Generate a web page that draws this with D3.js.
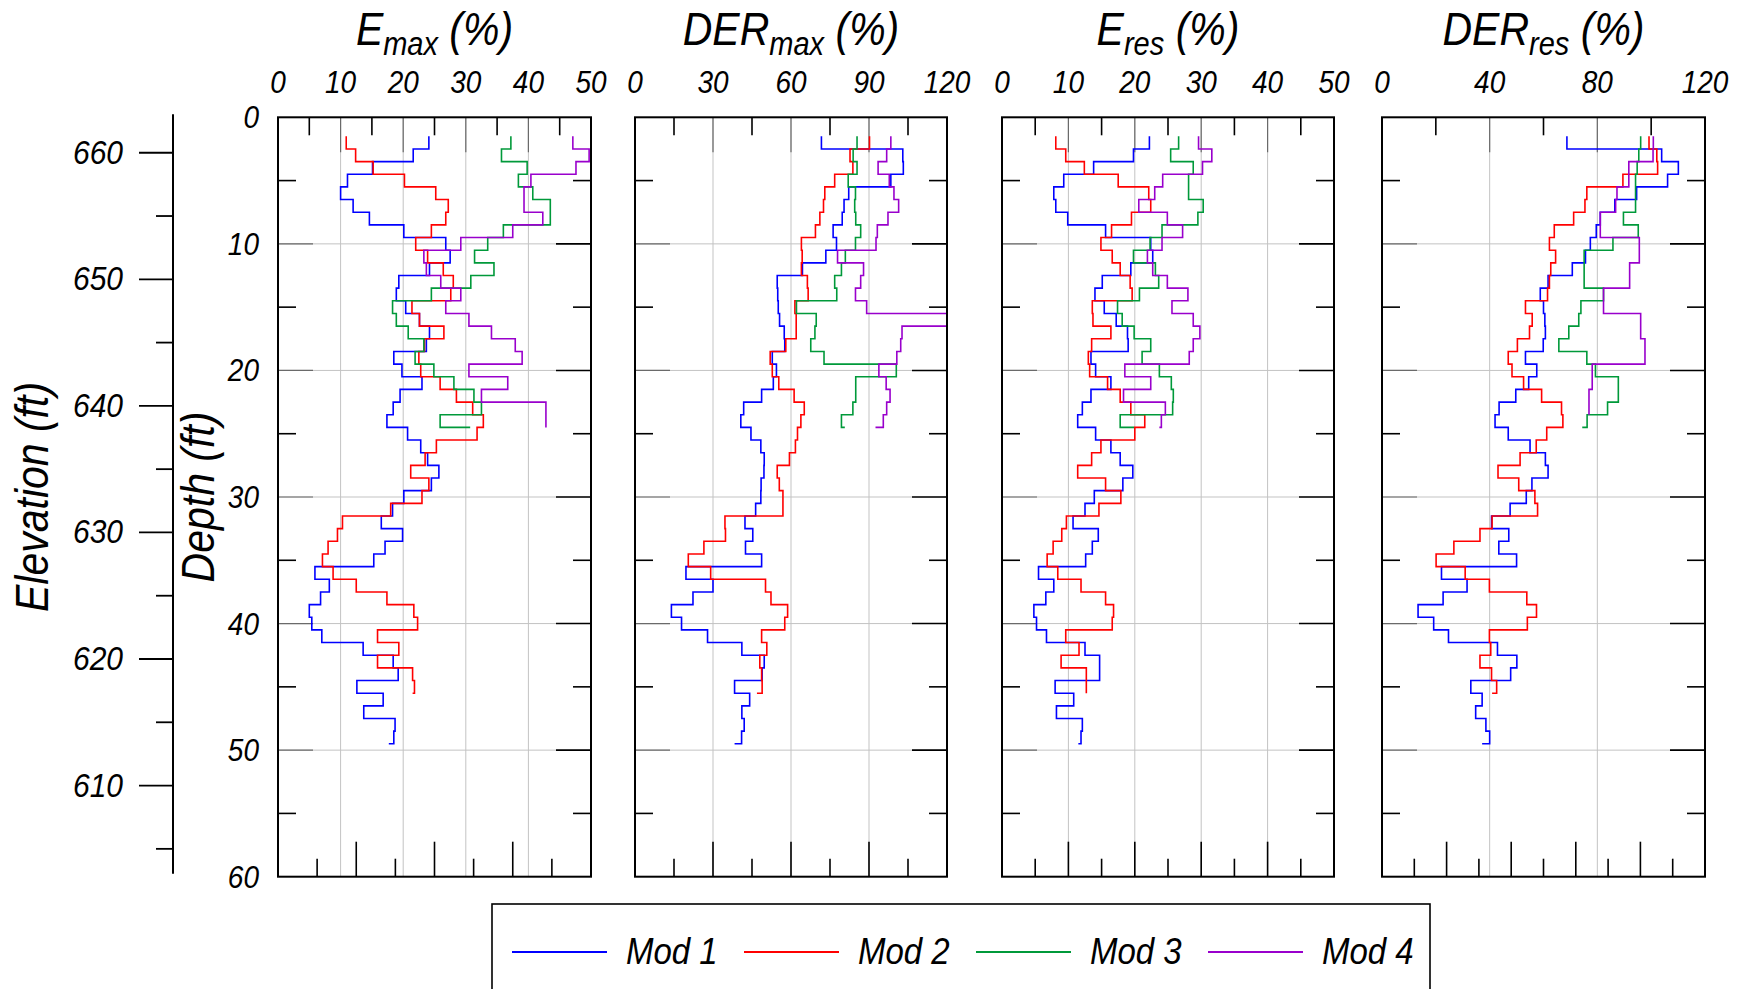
<!DOCTYPE html>
<html>
<head>
<meta charset="utf-8">
<script src="https://cdn.jsdelivr.net/npm/d3@7"></script>
<style>
  html, body { margin: 0; padding: 0; background: #fff; }
  svg { display: block; }
  text { font-family: "Liberation Sans", Arial, Helvetica, sans-serif; font-style: italic; fill: #000; }
</style>
</head>
<body>
<svg id="chart" width="1754" height="989"></svg>
<script>
// Centre depth (ft) of each 1-ft averaging interval
const depths = [2, 3, 4, 5, 6, 7, 8, 9, 10, 11, 12, 13, 14, 15, 16, 17, 18, 19, 20, 21, 22, 23, 24, 25,
  26, 27, 28, 29, 30, 31, 32, 33, 34, 35, 36, 37, 38, 39, 40, 41, 42, 43, 44, 45, 46, 47, 48, 49];

const seriesNames = ["Mod 1", "Mod 2", "Mod 3", "Mod 4"];

// E_max (%)
const emaxMod1 = [24.1, 21.6, 15.1, 11.1, 10.0, 12.0, 14.6, 20.1, 26.8, 27.5, 24.2, 19.3, 18.9, 20.4, 22.6, 24.2,
  23.7, 18.5, 19.8, 23.0, 19.5, 18.4, 17.4, 20.7, 22.8, 23.9, 25.7, 24.5, 20.1, 18.3, 16.5, 19.9, 17.1, 15.3,
  5.9, 8.2, 6.8, 5.0, 5.4, 7.0, 13.6, 18.4, 19.2, 12.6, 16.8, 13.7, 18.7, 18.5];
const emaxMod2 = [10.9, 12.4, 15.2, 20.2, 25.2, 27.2, 26.8, 24.5, 22.0, 23.9, 26.4, 28.0, 27.6, 21.4, 22.6, 26.5,
  23.4, 22.5, 22.8, 25.9, 28.5, 31.1, 32.8, 31.8, 25.3, 23.5, 21.2, 24.1, 23.0, 18.0, 10.3, 9.5, 8.0, 7.1,
  8.8, 12.5, 17.4, 21.7, 22.3, 15.9, 19.3, 15.9, 21.5, 21.8];
const emaxMod3 = [37.2, 35.7, 39.8, 38.4, 40.7, 43.5, 43.5, 36.0, 33.5, 31.4, 34.5, 30.8, 24.5, 18.3, 18.9, 20.8,
  23.3, 21.9, 24.9, 28.1, 31.3, 32.5, 25.9];
const emaxMod4 = [47.1, 49.7, 47.6, 40.4, 39.3, 39.3, 42.3, 37.5, 29.2, 23.3, 23.7, 26.0, 29.2, 26.8, 30.5, 34.1,
  37.9, 39.0, 30.5, 36.7, 32.5, 42.8, 42.8];
const emaxEnds = [17.7, 21.5, 30.7, 42.8];

// DER_max (%)
const dermaxMod1 = [71.7, 103.0, 103.2, 98.4, 82.2, 80.4, 79.7, 76.2, 77.5, 73.4, 64.4, 54.7, 54.9, 55.1, 55.6, 57.4,
  57.6, 52.8, 54.4, 53.2, 48.7, 41.8, 40.7, 44.6, 48.4, 49.7, 49.6, 48.5, 48.4, 46.4, 42.3, 45.3, 42.5, 48.7,
  19.6, 30.0, 22.3, 14.0, 17.9, 27.9, 41.1, 49.7, 48.9, 38.3, 44.1, 41.1, 42.0, 41.0];
const dermaxMod2 = [90.2, 82.7, 83.8, 76.8, 73.0, 72.5, 71.1, 69.4, 64.0, 64.3, 64.0, 66.3, 66.6, 61.5, 62.0, 62.0,
  58.0, 52.0, 52.8, 55.3, 61.2, 65.1, 63.8, 62.5, 61.7, 59.4, 54.7, 55.5, 56.9, 56.9, 34.6, 34.8, 26.5, 20.5,
  29.1, 50.2, 52.3, 58.7, 57.6, 48.7, 50.7, 48.0, 48.7, 48.9];
const dermaxMod3 = [85.4, 83.9, 85.4, 82.0, 84.8, 84.5, 84.9, 86.8, 84.8, 80.9, 79.4, 76.8, 77.6, 62.1, 69.7, 69.2,
  67.6, 72.7, 100.5, 84.9, 84.9, 83.8, 79.4];
const dermaxMod4 = [98.4, 96.8, 93.5, 97.8, 99.6, 101.4, 97.3, 93.2, 92.7, 77.9, 87.9, 86.8, 84.8, 89.1, 120.0, 102.7,
  102.2, 100.7, 93.8, 96.6, 98.1, 96.8, 95.5];
const dermaxEnds = [38.3, 46.9, 80.7, 92.5];

// E_res (%)
const eresMod1 = [22.2, 19.8, 13.8, 9.3, 7.8, 8.1, 9.9, 15.6, 22.4, 22.7, 19.4, 15.1, 14.0, 15.4, 17.2, 18.9,
  19.0, 13.4, 14.1, 16.4, 13.4, 12.1, 11.4, 14.1, 16.4, 17.8, 19.7, 18.2, 13.9, 12.5, 10.7, 14.5, 13.6, 12.6,
  5.5, 7.8, 6.6, 4.8, 5.2, 6.7, 12.5, 14.7, 14.7, 8.0, 10.8, 8.2, 12.1, 11.9];
const eresMod2 = [8.1, 9.6, 12.4, 17.5, 22.1, 22.4, 19.5, 16.5, 14.9, 16.6, 17.8, 19.3, 19.6, 13.6, 13.7, 16.4,
  13.5, 13.0, 13.2, 15.9, 17.8, 19.4, 21.5, 20.0, 14.9, 13.5, 11.4, 15.6, 17.9, 14.6, 9.7, 9.0, 7.7, 6.8,
  8.4, 11.9, 15.6, 16.8, 16.6, 9.6, 11.6, 8.9, 12.7, 12.7];
const eresMod3 = [26.6, 25.4, 28.8, 28.1, 28.1, 30.3, 29.5, 24.1, 22.3, 19.8, 23.1, 23.6, 20.7, 17.4, 18.1, 19.9,
  22.4, 21.1, 23.7, 25.5, 25.8, 25.7, 17.8];
const eresMod4 = [29.6, 31.6, 30.2, 24.2, 23.0, 20.6, 24.9, 27.2, 24.1, 21.9, 22.7, 24.9, 28.0, 25.6, 28.8, 29.8,
  28.8, 28.2, 18.5, 22.4, 18.3, 24.6, 24.0];
const eresEnds = [11.5, 12.7, 19.9, 23.7];

// DER_res (%)
const derresMod1 = [68.7, 103.9, 110.1, 106.1, 94.6, 86.5, 81.1, 79.6, 77.4, 75.6, 70.7, 61.7, 58.8, 60.0, 60.5, 60.7,
  59.9, 53.3, 57.5, 54.5, 49.7, 43.5, 42.0, 46.9, 55.0, 60.7, 61.7, 55.7, 53.6, 47.6, 40.7, 47.1, 43.4, 50.0,
  22.1, 31.6, 22.7, 13.4, 19.2, 24.7, 42.9, 50.1, 47.8, 33.0, 37.2, 34.8, 38.6, 40.0];
const derresMod2 = [99.2, 102.1, 102.4, 89.5, 76.1, 75.4, 71.2, 64.0, 62.2, 64.5, 62.7, 62.2, 61.5, 53.3, 55.8, 54.8,
  50.3, 46.9, 48.3, 52.6, 59.3, 66.7, 67.2, 61.2, 57.3, 51.3, 43.1, 50.8, 56.8, 57.8, 40.9, 36.4, 26.7, 20.1,
  30.9, 39.9, 53.8, 57.4, 54.0, 39.9, 40.4, 36.4, 40.7, 42.6];
const derresMod3 = [96.1, 95.4, 94.8, 94.2, 94.2, 94.2, 89.7, 95.2, 85.8, 75.1, 75.1, 75.1, 82.3, 73.9, 73.1, 69.4,
  65.7, 76.1, 79.3, 87.8, 87.8, 83.8, 76.2];
const derresMod4 = [100.8, 100.7, 91.7, 91.7, 87.3, 86.8, 81.1, 81.1, 95.6, 95.6, 92.0, 92.0, 82.3, 82.3, 96.1, 96.1,
  97.7, 97.7, 78.1, 78.1, 76.9, 76.9];
const derresEnds = [37.2, 40.9, 74.4, 76.9];

// Axis ticks
const depthLabels = [0, 10, 20, 30, 40, 50, 60];
const depthMajor = [10, 20, 30, 40, 50];
const depthMinor = [5, 15, 25, 35, 45, 55];
const elevLabels = [660, 650, 640, 630, 620, 610];
const elevMinor = [655, 645, 635, 625, 615, 605];

// ---- panel definitions ----
const panels = [
  { main: "E", sub: "max", domain: [0, 50], labels: [0, 10, 20, 30, 40, 50],
    topMajor: [10, 20, 30, 40], topMinor: [5, 15, 25, 35, 45],
    botMajor: [12.5, 25, 37.5], botMinor: [6.25, 18.75, 31.25, 43.75],
    series: [emaxMod1, emaxMod2, emaxMod3, emaxMod4], ends: emaxEnds },
  { main: "DER", sub: "max", domain: [0, 120], labels: [0, 30, 60, 90, 120],
    topMajor: [30, 60, 90], topMinor: [15, 45, 75, 105],
    botMajor: [30, 60, 90], botMinor: [15, 45, 75, 105],
    series: [dermaxMod1, dermaxMod2, dermaxMod3, dermaxMod4], ends: dermaxEnds },
  { main: "E", sub: "res", domain: [0, 50], labels: [0, 10, 20, 30, 40, 50],
    topMajor: [10, 20, 30, 40], topMinor: [5, 15, 25, 35, 45],
    botMajor: [10, 20, 30, 40], botMinor: [5, 15, 25, 35, 45],
    series: [eresMod1, eresMod2, eresMod3, eresMod4], ends: eresEnds },
  { main: "DER", sub: "res", domain: [0, 120], labels: [0, 40, 80, 120],
    topMajor: [40, 80], topMinor: [20, 60, 100],
    botMajor: [24, 48, 72, 96], botMinor: [12, 36, 60, 84, 108],
    series: [derresMod1, derresMod2, derresMod3, derresMod4], ends: derresEnds }
];

// ---- layout & style ----
const colors = ["#0000ff", "#ff0000", "#00993a", "#9900cc"];
const panelX = [[278, 591], [635, 947], [1002, 1334], [1382, 1705]];
const plotTop = 117.3, plotBottom = 876.7;
const longTick = 35, shortTick = 18;
const gridColor = "#c3c3c3";
const tall = 1.13;   // glyphs are drawn slightly elongated vertically

const svg = d3.select("#chart");
const y = d3.scaleLinear().domain([0, 60]).range([plotTop, plotBottom]);

function seg(g, x1, y1, x2, y2, color, w) {
  g.append("line").attr("x1", x1).attr("y1", y1).attr("x2", x2).attr("y2", y2)
    .attr("stroke", color).attr("stroke-width", w);
}

// text placed at (x, y) baseline, stretched vertically about the baseline
function label(parent, x, yy, str, size, anchor, rot) {
  const tr = `translate(${x},${yy})` + (rot ? ` rotate(${rot})` : "") + ` scale(1,${tall})`;
  return parent.append("text").attr("transform", tr)
    .attr("text-anchor", anchor || "start").attr("font-size", size).text(str);
}

// Step profile: each value holds over a 1-ft interval centred on its depth
function stepPoints(vals, end) {
  const pts = [];
  vals.forEach((v, i) => {
    pts.push([v, depths[i] - 0.5]);
    pts.push([v, depths[i] + 0.5]);
  });
  pts.push([end, depths[vals.length - 1] + 0.5]);
  return pts;
}

panels.forEach((p, k) => {
  const [x0, x1] = panelX[k];
  const x = d3.scaleLinear().domain(p.domain).range([x0, x1]);
  const g = svg.append("g");

  // grid
  p.topMajor.forEach(v => seg(g, x(v), plotTop, x(v), plotBottom, gridColor, 1));
  depthMajor.forEach(d => seg(g, x0, y(d), x1, y(d), gridColor, 1));

  // top ticks
  p.topMajor.forEach(v => seg(g, x(v), plotTop, x(v), plotTop + longTick, "#6a6a6a", 1.2));
  p.topMinor.forEach(v => seg(g, x(v), plotTop, x(v), plotTop + shortTick, "#000", 1.6));
  // bottom ticks
  p.botMajor.forEach(v => seg(g, x(v), plotBottom, x(v), plotBottom - longTick, "#000", 1.6));
  p.botMinor.forEach(v => seg(g, x(v), plotBottom, x(v), plotBottom - shortTick, "#000", 1.6));
  // left / right ticks
  depthMajor.forEach(d => {
    seg(g, x0, y(d), x0 + longTick, y(d), "#6a6a6a", 1.2);
    seg(g, x1, y(d), x1 - longTick, y(d), "#000", 1.6);
  });
  depthMinor.forEach(d => {
    seg(g, x0, y(d), x0 + shortTick, y(d), "#000", 1.6);
    seg(g, x1, y(d), x1 - shortTick, y(d), "#000", 1.6);
  });

  // data
  const clipId = "clip" + k;
  svg.append("clipPath").attr("id", clipId).append("rect")
    .attr("x", x0).attr("y", plotTop).attr("width", x1 - x0).attr("height", plotBottom - plotTop);
  const line = d3.line().x(d => x(d[0])).y(d => y(d[1]));
  const dg = g.append("g").attr("clip-path", `url(#${clipId})`);
  p.series.forEach((vals, s) => {
    dg.append("path").attr("d", line(stepPoints(vals, p.ends[s])))
      .attr("fill", "none").attr("stroke", colors[s]).attr("stroke-width", 1.6)
      .attr("stroke-linejoin", "miter");
  });

  // frame
  g.append("rect").attr("x", x0).attr("y", plotTop).attr("width", x1 - x0).attr("height", plotBottom - plotTop)
    .attr("fill", "none").attr("stroke", "#000").attr("stroke-width", 2);

  // top tick labels
  p.labels.forEach(v => label(g, x(v), 93, v, 28, "middle"));

  // title with subscript
  const t = label(g, (x0 + x1) / 2, 45, "", 41, "middle");
  t.append("tspan").text(p.main);
  t.append("tspan").attr("font-size", 29).attr("dy", 9).text(p.sub);
  t.append("tspan").attr("dy", -9).text(" (%)");
});

// depth labels on the first panel
depthLabels.forEach(d => label(svg, 259, y(d) + 11, d, 28, "end"));
label(svg, 214, (plotTop + plotBottom) / 2, "Depth (ft)", 41, "middle", -90);

// elevation axis (elevation = 662.8 ft - depth)
const surfaceElev = 662.8;
const elevX = 173;
const ey = d3.scaleLinear().domain([surfaceElev, surfaceElev - 60]).range([plotTop, plotBottom]);
seg(svg, elevX, plotTop - 3, elevX, plotBottom - 3, "#000", 2);
elevLabels.forEach(e => {
  seg(svg, elevX - 34, ey(e), elevX, ey(e), "#000", 1.8);
  label(svg, 123, ey(e) + 11, e, 30, "end");
});
elevMinor.forEach(e => seg(svg, elevX - 17, ey(e), elevX, ey(e), "#000", 1.8));
label(svg, 48, (plotTop + plotBottom) / 2, "Elevation (ft)", 41, "middle", -90);

// legend
const legend = svg.append("g");
legend.append("rect").attr("x", 492).attr("y", 904).attr("width", 938).attr("height", 100)
  .attr("fill", "#fff").attr("stroke", "#000").attr("stroke-width", 1.6);
seriesNames.forEach((name, i) => {
  const lx = 512 + i * 232;
  seg(legend, lx, 952, lx + 95, 952, colors[i], 1.8);
  label(legend, lx + 114, 964, name, 33, "start");
});
</script>
</body>
</html>
